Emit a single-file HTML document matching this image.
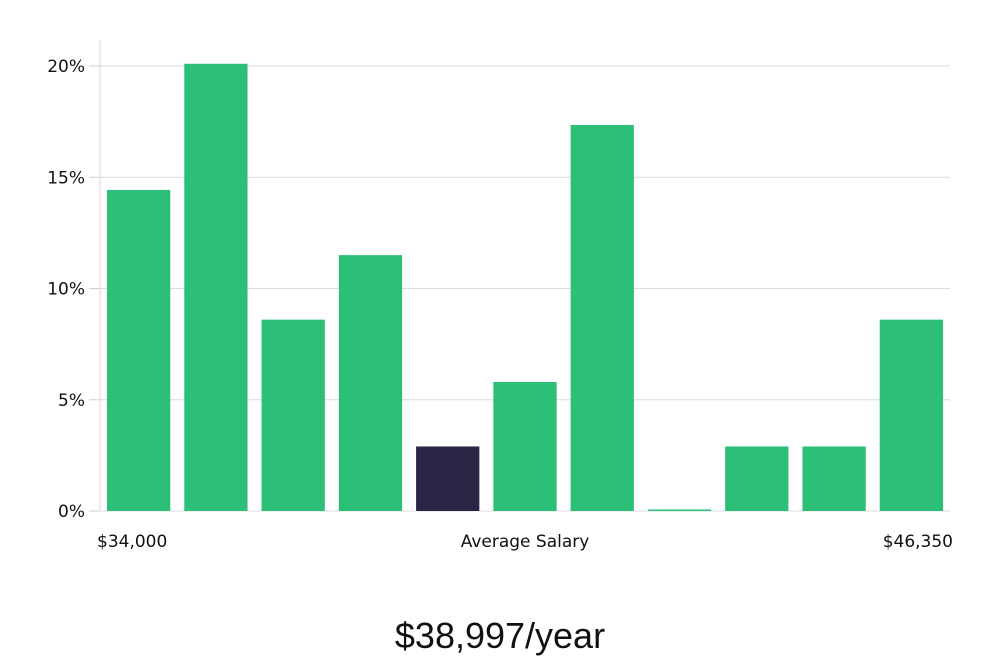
<!DOCTYPE html>
<html><head><meta charset="utf-8">
<style>
html,body{margin:0;padding:0;background:#fff;}
body{width:1000px;height:660px;overflow:hidden;}
svg text{font-family:"DejaVu Sans","Liberation Sans",sans-serif;}
</style></head>
<body>
<svg id="chart" width="1000" height="660" xmlns="http://www.w3.org/2000/svg">
<text x="500" y="648" text-anchor="middle" font-size="36" fill="#111" style="font-family:'Liberation Sans',sans-serif">$38,997/year</text>
</svg>
<script>
const categories = ["b1","b2","b3","b4","b5","b6","b7","b8","b9","b10","b11"];
const values = [14.43, 20.1, 8.6, 11.5, 2.9, 5.8, 17.35, 0, 2.9, 2.9, 8.6];
const highlightIndex = 4;
const yTicks = [0, 5, 10, 15, 20];
const yTickLabels = ["0%","5%","10%","15%","20%"];
const xLabels = ["$34,000","Average Salary","$46,350"];

const NS="http://www.w3.org/2000/svg";
const svg=document.getElementById('chart');
const left=100,right=950,y0=511,y20=66;
const yScale=v=>y0-(v/20)*(y0-y20);
const slot=(right-left)/categories.length;
const xScale=i=>left+i*slot;
function mk(tag,attrs){const e=document.createElementNS(NS,tag);for(const k in attrs)e.setAttribute(k,attrs[k]);svg.appendChild(e);return e;}

yTicks.forEach((t,i)=>{
  const y=yScale(t);
  const g=mk('line',{x1:left,x2:right,y1:y,y2:y,stroke:'#dcdcdc','stroke-width':1});
  
  
  const tk=mk('line',{x1:89,x2:left,y1:y,y2:y,stroke:'#cfcfcf','stroke-width':1});
  
  
  const tx=mk('text',{x:85,y:y+6,'text-anchor':'end','font-size':17,fill:'#111'});
  tx.textContent=yTickLabels[i];
  
  
});
const ax=mk('line',{x1:left,x2:left,y1:40,y2:y0,stroke:'#d8d8d8','stroke-width':1});



values.forEach((v,i)=>{
  const x=xScale(i)+7, w=slot-14;
  const top=yScale(v);
  const h=Math.max(y0-top,1.5);
  const r=mk('rect',{x:x,y:y0-h,width:w,height:h,fill:i===highlightIndex?'#2a2545':'#2bbf77'});
  
  
});

const xl=[[97,'start'],[525,'middle'],[953,'end']];
xLabels.forEach((s,i)=>{
  const t=mk('text',{x:xl[i][0],y:547,'text-anchor':xl[i][1],'font-size':17,fill:'#111'});
  t.textContent=s;
  
  
});
</script>
</body></html>
